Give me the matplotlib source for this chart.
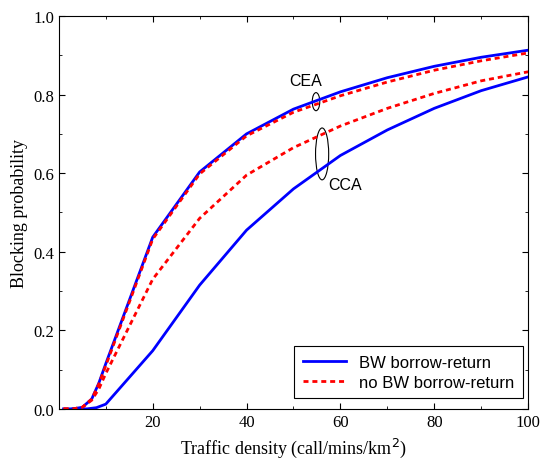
import numpy as np
import matplotlib.pyplot as plt
from matplotlib.patches import Ellipse
from matplotlib.ticker import MultipleLocator

x = [1, 3, 5, 7, 8.5, 10, 20, 30, 40, 50, 60, 70, 80, 90, 100]
cea_bw = [0.0, 0.0, 0.004, 0.025, 0.065, 0.115, 0.437, 0.603, 0.70, 0.763, 0.807, 0.843, 0.872, 0.895, 0.913]
cea_nobw = [0.0, 0.0, 0.004, 0.025, 0.063, 0.11, 0.432, 0.598, 0.695, 0.755, 0.797, 0.832, 0.862, 0.886, 0.906]
cca_nobw = [0.0, 0.0, 0.004, 0.022, 0.05, 0.09, 0.33, 0.485, 0.595, 0.665, 0.72, 0.765, 0.803, 0.835, 0.858]
x_cca = [3, 6, 8, 10, 20, 30, 40, 50, 60, 70, 80, 90, 100]
cca_bw = [0.0, 0.0, 0.003, 0.012, 0.148, 0.315, 0.455, 0.56, 0.645, 0.71, 0.765, 0.81, 0.845]

fig = plt.figure(figsize=(5.4, 4.6), dpi=100)
ax = fig.add_axes([0.109, 0.109, 0.869, 0.854])

dash = (0, (1.8, 1.4))
ax.plot(x, cea_bw, color='#0000ff', lw=2, label='BW borrow-return')
ax.plot(x, cea_nobw, color='#ff0000', lw=2, ls=dash, label='no BW borrow-return')
ax.plot(x_cca, cca_bw, color='#0000ff', lw=2)
ax.plot(x, cca_nobw, color='#ff0000', lw=2, ls=dash)

ax.add_patch(Ellipse((54.8, 0.782), 1.6, 0.046, fill=False, lw=0.8, color='black'))
ax.add_patch(Ellipse((56.1, 0.649), 2.8, 0.132, fill=False, lw=0.8, color='black'))
ax.text(52.5, 0.835, 'CEA', ha='center', va='center', fontsize=11.5, family='Liberation Sans')
ax.text(61, 0.57, 'CCA', ha='center', va='center', fontsize=11.5, family='Liberation Sans')

ax.set_xlim(0, 100)
ax.set_ylim(0, 1.0)
ax.set_xticks([20, 40, 60, 80, 100])
ax.xaxis.set_minor_locator(MultipleLocator(10))
ax.yaxis.set_major_locator(MultipleLocator(0.2))
ax.yaxis.set_minor_locator(MultipleLocator(0.1))
ax.yaxis.set_major_formatter(plt.FormatStrFormatter('%.1f'))
ax.tick_params(which='both', direction='in', top=True, right=True)
ax.tick_params(which='major', length=4)
ax.tick_params(which='minor', length=2)
for lab in ax.get_xticklabels() + ax.get_yticklabels():
    lab.set_family('Liberation Serif')
    lab.set_fontsize(12)

ax.set_xlabel('Traffic density (call/mins/km$^2$)', family='Liberation Serif', fontsize=13)
ax.set_ylabel('Blocking probability', family='Liberation Serif', fontsize=13)

leg = ax.legend(loc='lower right', bbox_to_anchor=(0.989, 0.028), borderaxespad=0,
                fancybox=False, edgecolor='black', framealpha=1,
                prop={'family': 'Liberation Sans', 'size': 12},
                handlelength=2.6, borderpad=0.5, labelspacing=0.3)
leg.get_frame().set_linewidth(0.8)

fig.savefig('out.png')
